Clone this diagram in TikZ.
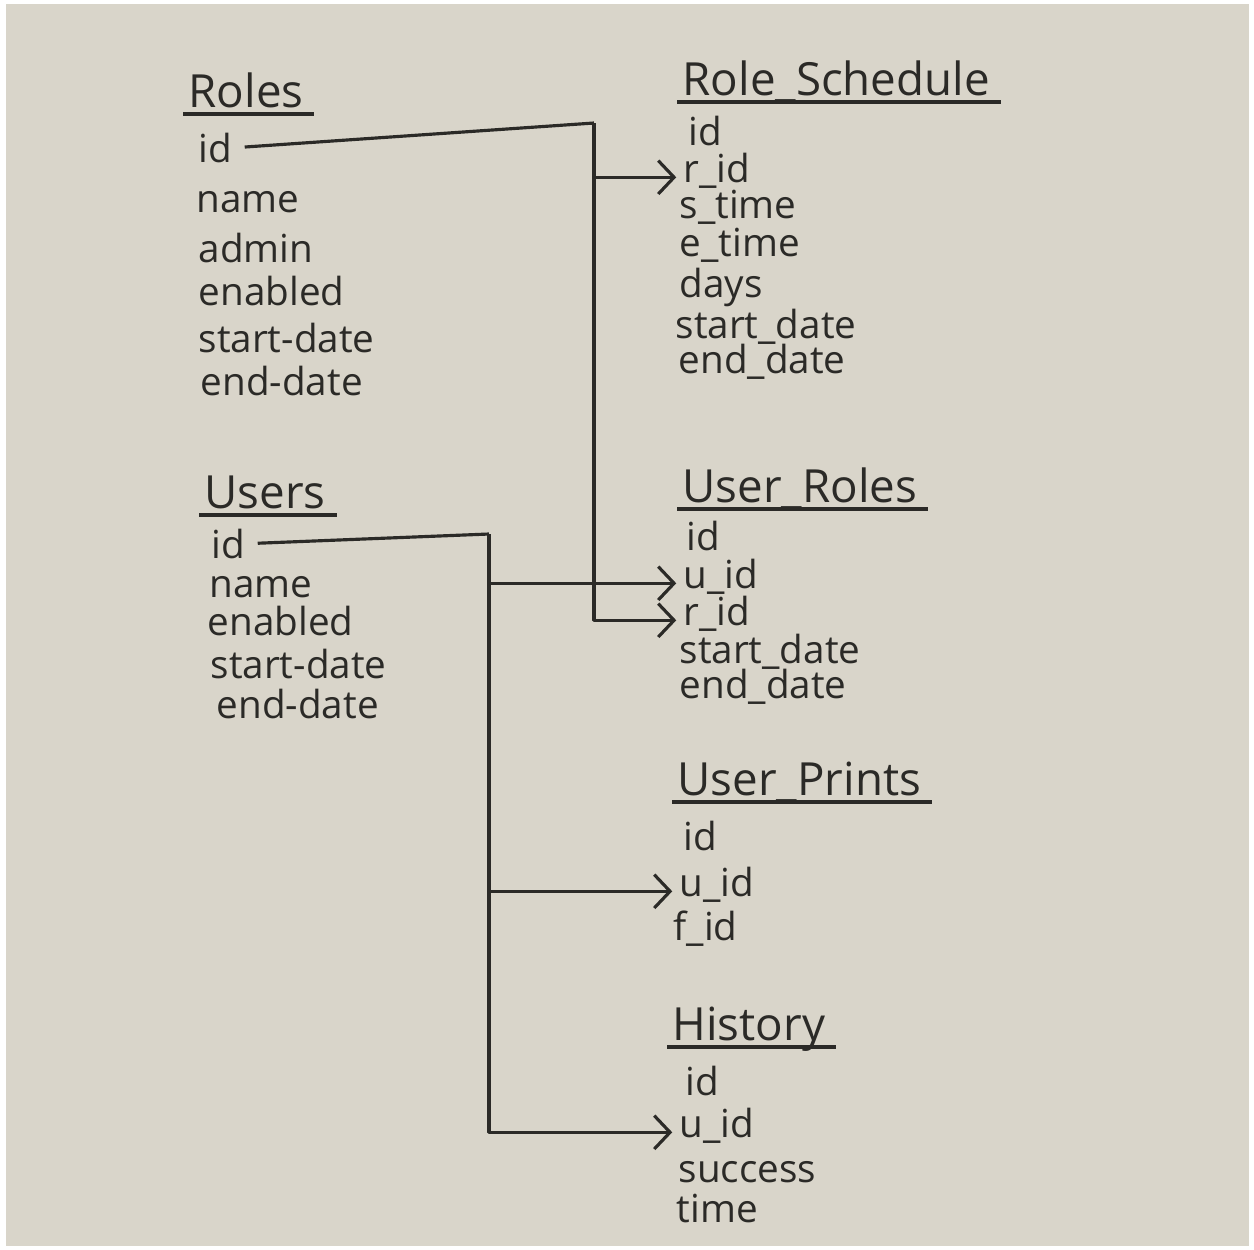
\documentclass[tikz,border=0pt]{standalone}
\usepackage{fontspec}
\setmainfont{Open Sans}
\usetikzlibrary{arrows.meta}
\definecolor{board}{HTML}{D9D5CA}
\definecolor{marker}{HTML}{2B2A27}
\tikzset{
  tbl/.style={anchor=base west, inner sep=3pt, text=marker, font=\fontsize{26}{30}\selectfont},
  fld/.style={anchor=base west, inner sep=3pt, text=marker, font=\fontsize{22}{26}\selectfont},
  wire/.style={draw=marker, line width=1.8pt, line join=round},
  link/.style={wire, -{Straight Barb[length=9pt,width=19pt]}, shorten >=1pt},
}

\begin{document}
\begin{tikzpicture}[x=0.02cm, y=-0.02cm]
  \useasboundingbox (0,0) rectangle (1254,1249);
  \fill[board] (6,4) rectangle (1249,1246);

  \node[tbl] (roles) at (183,107) {Roles};
  \node[fld] (rid) at (193,162) {id};
  \node[fld] (rname) at (191,212) {name};
  \node[fld] (radmin) at (193,262) {admin};
  \node[fld] (ren) at (193,305) {enabled};
  \node[fld] (rsd) at (193,352) {start-date};
  \node[fld] (red) at (195,395) {end-date};

  \node[tbl] (rs) at (677,95) {Role\_Schedule};
  \node[fld] (rsid) at (683,145) {id};
  \node[fld] (rsrid) at (678,182) {r\_id};
  \node[fld] (rsst) at (674,218) {s\_time};
  \node[fld] (rset) at (674,256) {e\_time};
  \node[fld] (rsdays) at (674,297) {days};
  \node[fld] (rssd) at (670,338) {start\_date};
  \node[fld] (rsed) at (673,373) {end\_date};

  \node[tbl] (users) at (199,508) {Users};
  \node[fld] (uid) at (206,558) {id};
  \node[fld] (uname) at (204,597) {name};
  \node[fld] (uen) at (202,635) {enabled};
  \node[fld] (usd) at (205,678) {start-date};
  \node[fld] (ued) at (211,718) {end-date};

  \node[tbl] (ur) at (677,502) {User\_Roles};
  \node[fld] (urid) at (681,550) {id};
  \node[fld] (uruid) at (678,588) {u\_id};
  \node[fld] (urrid) at (678,625) {r\_id};
  \node[fld] (ursd) at (674,663) {start\_date};
  \node[fld] (ured) at (674,698) {end\_date};

  \node[tbl] (up) at (672,795) {User\_Prints};
  \node[fld] (upid) at (678,850) {id};
  \node[fld] (upuid) at (674,896) {u\_id};
  \node[fld] (upfid) at (668,940) {f\_id};

  \node[tbl] (hist) at (667,1040) {History};
  \node[fld] (hid) at (680,1095) {id};
  \node[fld] (huid) at (674,1137) {u\_id};
  \node[fld] (hsucc) at (673,1182) {success};
  \node[fld] (htime) at (671,1222) {time};

  \foreach \t in {roles,rs,users,ur,up,hist}
    \draw[wire] ([yshift=-4pt]\t.base west) -- ([xshift=3pt,yshift=-4pt]\t.base east);

  \coordinate (rolesbend) at (594,123);
  \coordinate (usersbend) at (489,534);

  \draw[wire, shorten <=4pt] (rid.east) -- (rolesbend);
  \draw[link] (rolesbend) |- (rsrid.mid west);
  \draw[link] (rolesbend) |- (urrid.mid west);

  \draw[wire, shorten <=4pt] (uid.east) -- (usersbend);
  \draw[link] (usersbend) |- (uruid.mid west);
  \draw[link] (usersbend) |- (upuid.mid west);
  \draw[link] (usersbend) |- (huid.mid west);
\end{tikzpicture}
\end{document}
